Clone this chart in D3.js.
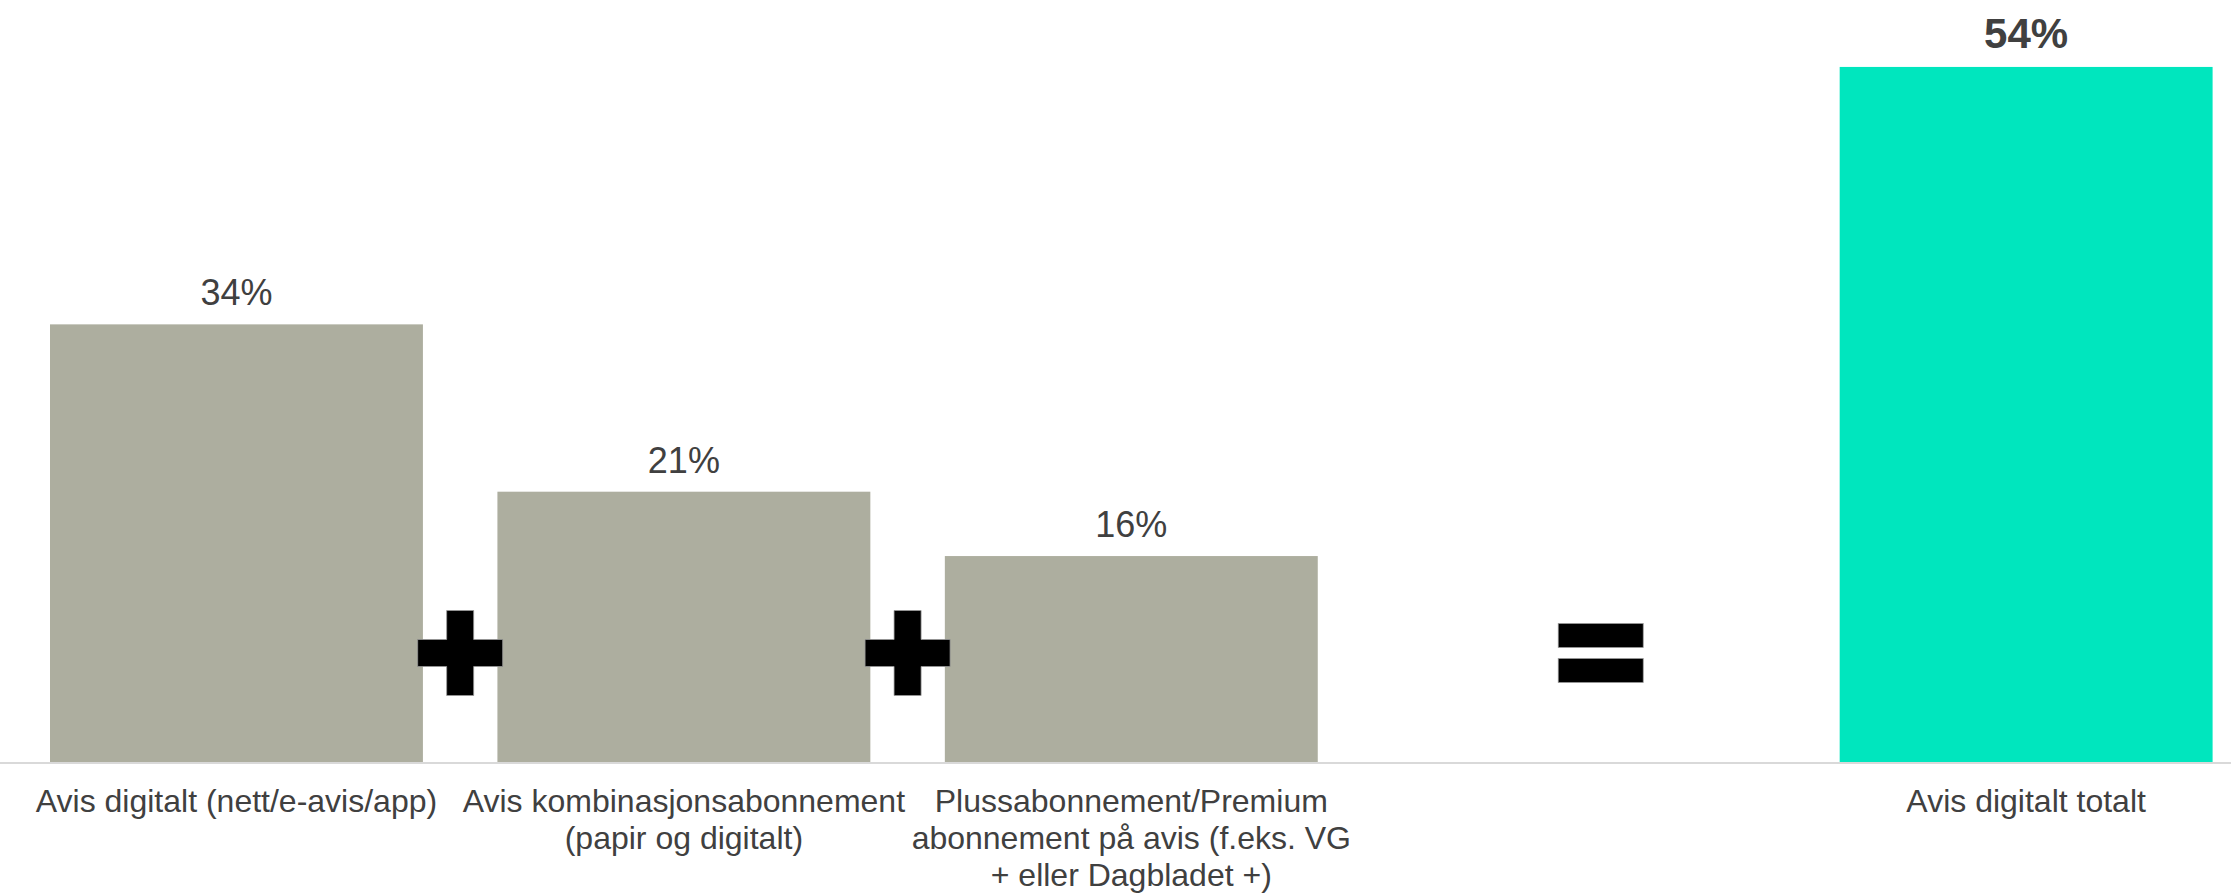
<!DOCTYPE html>
<html>
<head>
<meta charset="utf-8">
<script src="https://cdn.jsdelivr.net/npm/d3@7"></script>
<style>
  html, body { margin: 0; padding: 0; background: #ffffff; }
  svg { display: block; }
  text { font-family: "Liberation Sans", Arial, sans-serif; }
</style>
</head>
<body>
<svg id="chart" width="2231" height="894"></svg>
<script>
// Slots along the x axis; the fourth slot is left empty for the "=" sign.
const slots = ["digital", "kombi", "pluss", "blank", "total"];

// Category labels, one array of lines per slot.
const categoryLines = [
  ["Avis digitalt (nett/e-avis/app)"],
  ["Avis kombinasjonsabonnement", "(papir og digitalt)"],
  ["Plussabonnement/Premium", "abonnement på avis (f.eks. VG", "+ eller Dagbladet +)"],
  [],
  ["Avis digitalt totalt"]
];

// Share of respondents (%), null for the empty slot.
const values = [34, 21, 16, null, 54];

// Value labels shown above the bars.
const valueLabels = ["34%", "21%", "16%", "", "54%"];

// Which bars are the summed total.
const isTotal = [false, false, false, false, true];

const W = 2231, H = 894;
const baseY = 762;

const svg = d3.select("#chart");

const x = d3.scaleBand()
  .domain(slots)
  .range([50, 2212.6])
  .paddingInner(0.1665)
  .paddingOuter(0);

const y = d3.scaleLinear()
  .domain([0, 59.2])
  .range([baseY, 0]);

const rows = slots.map((s, i) => ({
  slot: s,
  value: values[i],
  label: valueLabels[i],
  lines: categoryLines[i],
  total: isTotal[i]
}));

const barRows = rows.filter(d => d.value !== null);

// Bars
svg.append("g")
  .selectAll("rect")
  .data(barRows)
  .join("rect")
  .attr("x", d => x(d.slot))
  .attr("y", d => y(d.value))
  .attr("width", x.bandwidth())
  .attr("height", d => y(0) - y(d.value))
  .attr("fill", d => d.total ? "#00E6BE" : "#ADAE9F");

// Baseline
svg.append("line")
  .attr("x1", 0).attr("x2", W)
  .attr("y1", baseY + 1).attr("y2", baseY + 1)
  .attr("stroke", "#D9D9D9")
  .attr("stroke-width", 2);

// Value labels
svg.append("g")
  .selectAll("text")
  .data(barRows)
  .join("text")
  .attr("x", d => x(d.slot) + x.bandwidth() / 2)
  .attr("y", d => y(d.value) - 19)
  .attr("text-anchor", "middle")
  .attr("fill", "#404040")
  .attr("font-size", d => d.total ? 42 : 36)
  .attr("font-weight", d => d.total ? "bold" : "normal")
  .text(d => d.label);

// Category labels
const cat = svg.append("g")
  .selectAll("text")
  .data(rows)
  .join("text")
  .attr("x", d => x(d.slot) + x.bandwidth() / 2)
  .attr("y", 812)
  .attr("text-anchor", "middle")
  .attr("fill", "#404040")
  .attr("font-size", 32);

cat.selectAll("tspan")
  .data(d => d.lines.map((t, i) => ({ t, i, cx: x(d.slot) + x.bandwidth() / 2 })))
  .join("tspan")
  .attr("x", d => d.cx)
  .attr("dy", d => d.i === 0 ? 0 : 37)
  .text(d => d.t);

// Operator signs
const signSize = 85, armW = 27;
const signY = 653;

function drawPlus(cx, cy) {
  const h = signSize / 2, a = armW / 2;
  const p = d3.path();
  p.moveTo(cx - a, cy - h);
  p.lineTo(cx + a, cy - h);
  p.lineTo(cx + a, cy - a);
  p.lineTo(cx + h, cy - a);
  p.lineTo(cx + h, cy + a);
  p.lineTo(cx + a, cy + a);
  p.lineTo(cx + a, cy + h);
  p.lineTo(cx - a, cy + h);
  p.lineTo(cx - a, cy + a);
  p.lineTo(cx - h, cy + a);
  p.lineTo(cx - h, cy - a);
  p.lineTo(cx - a, cy - a);
  p.closePath();
  svg.append("path")
    .attr("d", p.toString())
    .attr("fill", "#000")
    .attr("stroke", "#9a9a9a")
    .attr("stroke-width", 0.75);
}

function drawEquals(cx, cy) {
  const barH = 24, gap = 11;
  [-1, 1].forEach(s => {
    svg.append("rect")
      .attr("x", cx - signSize / 2)
      .attr("y", s < 0 ? cy - gap / 2 - barH : cy + gap / 2)
      .attr("width", signSize)
      .attr("height", barH)
      .attr("fill", "#000")
      .attr("stroke", "#9a9a9a")
      .attr("stroke-width", 0.75);
  });
}

// "+" between consecutive component bars
const gapCenter = (a, b) => (x(a) + x.bandwidth() + x(b)) / 2;
drawPlus(gapCenter("digital", "kombi"), signY);
drawPlus(gapCenter("kombi", "pluss"), signY);

// "=" in the empty slot before the total
drawEquals(x("blank") + x.bandwidth() / 2 + 22, signY);
</script>
</body>
</html>
